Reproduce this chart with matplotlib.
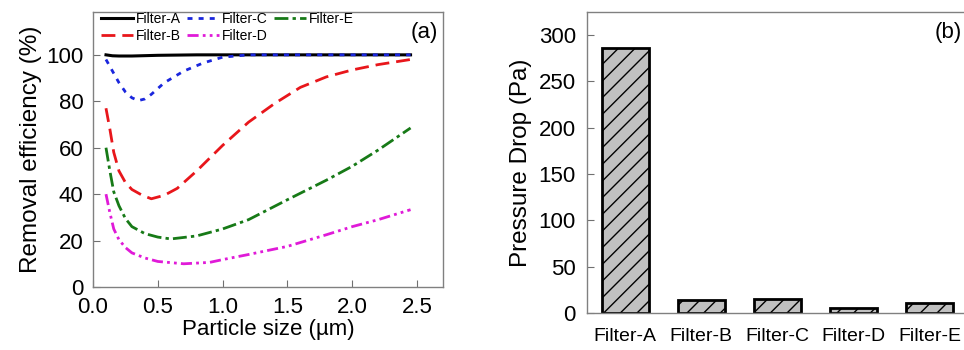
import matplotlib.pyplot as plt
import numpy as np

plt.rcParams["font.family"] = ["Liberation Sans", "DejaVu Sans"]
plt.rcParams["hatch.linewidth"] = 1

# * Dados do painel (a): eficiencia de remocao x tamanho de particula
tamanho_a = [0.1, 0.15, 0.2, 0.3, 0.5, 0.8, 1.0, 1.5, 2.0, 2.45]
efic_a = [100, 99.6, 99.5, 99.5, 99.8, 100, 100, 100, 100, 100]

tamanho_b = [0.1, 0.13, 0.16, 0.2, 0.25, 0.3, 0.38, 0.45, 0.55, 0.65, 0.8, 1.0,
             1.2, 1.4, 1.6, 1.8, 2.0, 2.2, 2.45]
efic_b = [77, 68, 58, 50, 45, 42, 39.5, 38, 39.5, 42.5, 50, 61,
          71, 79, 86, 90.5, 93.5, 95.8, 98]

tamanho_c = [0.1, 0.15, 0.2, 0.25, 0.3, 0.35, 0.4, 0.45, 0.55, 0.7, 0.85, 1.0,
             1.2, 1.5, 2.0, 2.45]
efic_c = [98, 93, 88, 84, 81.5, 80.3, 81, 83, 88, 93, 96.5, 99,
          100, 100, 100, 100]

tamanho_d = [0.1, 0.13, 0.16, 0.2, 0.25, 0.3, 0.4, 0.5, 0.7, 0.9, 1.0, 1.2,
             1.5, 1.8, 2.0, 2.2, 2.45]
efic_d = [40, 32, 25, 20.4, 17, 14.7, 12.5, 11, 10, 10.6, 11.8, 14,
          17.5, 22.5, 26, 29, 33.3]

tamanho_e = [0.1, 0.13, 0.16, 0.2, 0.25, 0.3, 0.4, 0.5, 0.6, 0.8, 1.0, 1.2,
             1.5, 1.8, 2.0, 2.2, 2.45]
efic_e = [60, 50, 41, 35, 29.5, 26, 23, 21.5, 20.7, 22, 25, 29,
          37.6, 46, 52, 59, 68.5]

# * Dados do painel (b): queda de pressao
filtros = ["Filter-A", "Filter-B", "Filter-C", "Filter-D", "Filter-E"]
queda_pressao = [286, 14, 15, 5, 10.5]

fig = plt.figure(figsize=(9.64, 3.5), dpi=100)

# ! Painel (a)
ax1 = fig.add_axes([0.0965, 0.18, 0.363, 0.786])
ax1.plot(tamanho_a, efic_a, color="black", lw=2.2, label="Filter-A")
ax1.plot(tamanho_b, efic_b, color="#e8161b", lw=2, dashes=(5, 2.5), label="Filter-B")
ax1.plot(tamanho_c, efic_c, color="#1a26dd", lw=2, dashes=(1.8, 2.2), label="Filter-C")
ax1.plot(tamanho_d, efic_d, color="#e01ad8", lw=2,
         dashes=(4, 1.5, 1, 1.5, 1, 1.5), label="Filter-D")
ax1.plot(tamanho_e, efic_e, color="#177a17", lw=2,
         dashes=(5, 1.5, 1.2, 1.5), label="Filter-E")

ax1.set_xlim(0, 2.7)
ax1.set_ylim(0, 118.5)
ax1.set_xticks([0.0, 0.5, 1.0, 1.5, 2.0, 2.5])
ax1.set_xticklabels(["0.0", "0.5", "1.0", "1.5", "2.0", "2.5"])
ax1.set_yticks([0, 20, 40, 60, 80, 100])
ax1.tick_params(direction="in", length=5, width=0.8, color="#707070",
                labelsize=16, pad=7)
ax1.set_xlabel("Particle size (µm)", fontsize=16, labelpad=1)
ax1.set_ylabel("Removal efficiency (%)", fontsize=17.5, labelpad=3)
for sp in ax1.spines.values():
    sp.set_color("#808080")
    sp.set_linewidth(1)

ax1.legend(loc="upper left", bbox_to_anchor=(0.015, 1.01), ncol=3,
           frameon=False, fontsize=10, handlelength=2.3, handletextpad=0.2,
           columnspacing=0.45, labelspacing=0.2, borderpad=0.2,
           borderaxespad=0)
ax1.text(0.985, 0.965, "(a)", transform=ax1.transAxes, ha="right", va="top",
         fontsize=16)

# ! Painel (b)
ax2 = fig.add_axes([0.609, 0.1057, 0.3947, 0.8603])
pos = np.arange(len(filtros))
ax2.bar(pos, queda_pressao, width=0.62, color="#c0c0c0", edgecolor="black",
        linewidth=2, hatch="//")
ax2.set_xlim(-0.5, 4.5)
ax2.set_ylim(0, 325)
ax2.set_yticks([0, 50, 100, 150, 200, 250, 300])
ax2.set_xticks(pos)
ax2.set_xticklabels(filtros)
ax2.tick_params(axis="y", direction="in", length=5, width=0.8, color="#707070",
                labelsize=16, pad=8)
ax2.tick_params(axis="x", length=0, labelsize=14, pad=11)
ax2.set_ylabel("Pressure Drop (Pa)", fontsize=17.5, labelpad=5)
for sp in ax2.spines.values():
    sp.set_color("#808080")
    sp.set_linewidth(1)
ax2.text(0.985, 0.965, "(b)", transform=ax2.transAxes, ha="right", va="top",
         fontsize=16)

fig.savefig("out.png", dpi=100)
